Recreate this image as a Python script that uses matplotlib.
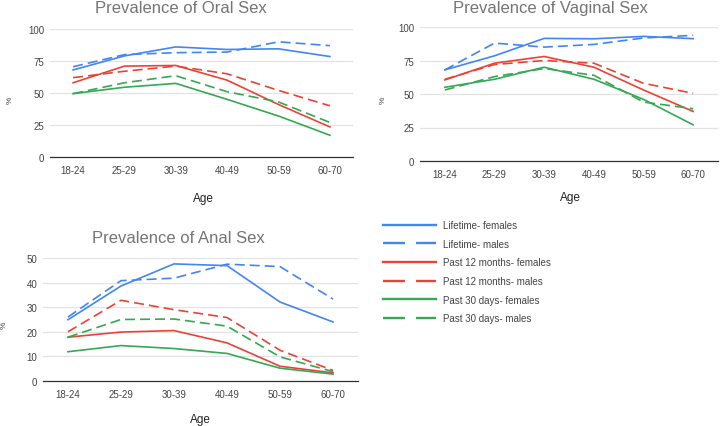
import matplotlib
matplotlib.use("Agg")
import matplotlib.pyplot as plt
from matplotlib.lines import Line2D

plt.rcParams["font.family"] = ["Liberation Sans", "DejaVu Sans"]

AGES = ["18-24", "25-29", "30-39", "40-49", "50-59", "60-70"]
SERIES = [
    "Lifetime- females",
    "Lifetime- males",
    "Past 12 months- females",
    "Past 12 months- males",
    "Past 30 days- females",
    "Past 30 days- males",
]

# values, one list per series
oral = [
    [68, 79, 86, 84, 84.5, 78.5],
    [70.5, 80, 81.5, 82, 90, 87],
    [58, 71, 71.5, 60, 41, 23.5],
    [62, 67, 71, 65, 52, 40],
    [49.5, 54.5, 57.5, 45, 32, 17],
    [49.5, 58, 63.5, 51, 43, 27],
]
vaginal = [
    [68, 78.5, 91.5, 91.2, 93, 91.3],
    [68, 88, 85, 87, 91.8, 93.8],
    [60.5, 73, 78, 70, 53, 37],
    [61, 72, 75, 73, 58, 50.5],
    [55, 61, 70, 61, 46, 27],
    [53, 63, 69, 64, 44, 39],
]
anal = [
    [24.9, 38.6, 47.6, 46.9, 32.1, 24],
    [26, 40.8, 41.8, 47.5, 46.5, 33.3],
    [17.8, 19.9, 20.5, 15.5, 6, 3.3],
    [20, 32.8, 29, 25.8, 12.5, 4.3],
    [11.9, 14.4, 13.2, 11.2, 5.2, 2.8],
    [17.8, 25, 25.2, 22.3, 9.8, 3.8],
]

COLORS = ["#4285f4", "#4285f4", "#ea4335", "#ea4335", "#34a853", "#34a853"]
DASHED = [False, True, False, True, False, True]
W, H = 721, 427


def px_axes(fig, x0, x1, y_top, y_bot):
    return fig.add_axes([x0 / W, 1 - y_bot / H, (x1 - x0) / W, (y_bot - y_top) / H])


def draw_panel(ax, data, yticks, xpad):
    x = list(range(len(AGES)))
    for vals, c, d in zip(data, COLORS, DASHED):
        if d:
            ax.plot(x, vals, color=c, lw=1.2, dashes=[6, 3])
        else:
            ax.plot(x, vals, color=c, lw=1.2)
    ax.set_xlim(-xpad, len(AGES) - 1 + xpad)
    ax.set_ylim(0, yticks[-1])
    ax.set_yticks(yticks)
    ax.set_xticks(x)
    ax.set_xticklabels(AGES)
    ax.tick_params(length=0, labelsize=7, colors="#444444")
    ax.tick_params(axis="x", pad=6)
    ax.tick_params(axis="y", pad=4)
    ax.grid(axis="y", color="#e3e3e3", lw=0.9)
    ax.set_axisbelow(True)
    for s in ["top", "right", "left"]:
        ax.spines[s].set_visible(False)
    ax.spines["bottom"].set_color("#333333")
    ax.spines["bottom"].set_linewidth(0.9)


fig = plt.figure(figsize=(W / 100, H / 100), dpi=100)

ax1 = px_axes(fig, 50, 353, 30, 158)
draw_panel(ax1, oral, [0, 25, 50, 75, 100], 0.45)
ax2 = px_axes(fig, 420, 718, 28, 162)
draw_panel(ax2, vaginal, [0, 25, 50, 75, 100], 0.5)
ax3 = px_axes(fig, 43, 358, 259, 382)
draw_panel(ax3, anal, [0, 10, 20, 30, 40, 50], 0.47)

title_kw = dict(ha="center", va="baseline", fontsize=12, color="#757575")
fig.text(181 / W, 1 - 13 / H, "Prevalence of Oral Sex", **title_kw)
fig.text(550 / W, 1 - 12.5 / H, "Prevalence of Vaginal Sex", **title_kw)
fig.text(178 / W, 1 - 243 / H, "Prevalence of Anal Sex", **title_kw)

lab_kw = dict(ha="center", va="center", fontsize=8.5, color="#222222")
fig.text(203 / W, 1 - 199 / H, "Age", **lab_kw)
fig.text(570 / W, 1 - 198 / H, "Age", **lab_kw)
fig.text(200 / W, 1 - 420 / H, "Age", **lab_kw)
pct_kw = dict(ha="center", va="center", fontsize=6, color="#444444", rotation=90)
fig.text(10 / W, 1 - 100 / H, "%", **pct_kw)
fig.text(383 / W, 1 - 100 / H, "%", **pct_kw)
fig.text(4 / W, 1 - 325 / H, "%", **pct_kw)

handles = []
for c, d in zip(COLORS, DASHED):
    if d:
        handles.append(Line2D([], [], color=c, lw=1.7, dashes=[9.3, 4.7]))
    else:
        handles.append(Line2D([], [], color=c, lw=1.7))
leg = fig.legend(handles, SERIES, loc="upper left", bbox_to_anchor=(383 / W, 1 - 221 / H),
                 frameon=False, fontsize=7, handlelength=5.45, labelspacing=0.89,
                 handletextpad=0.72, borderpad=0, borderaxespad=0, labelcolor="#444444")

fig.savefig("out.png", dpi=100)
